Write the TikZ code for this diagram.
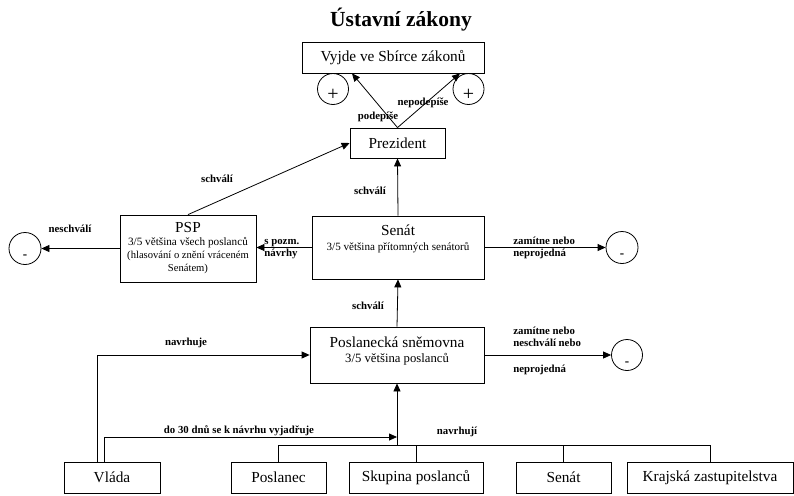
\documentclass[tikz,border=0pt]{standalone}
\usepackage{fontspec}
\setmainfont{Liberation Serif}
\usetikzlibrary{arrows.meta}

\begin{document}
\begin{tikzpicture}[x=1pt,y=-1pt,line width=0.8pt]
  \tikzset{box/.style={draw,inner sep=0pt,minimum height=31pt,align=center,font=\fontsize{15.3}{15}\selectfont},
    kruh/.style={draw,circle,inner sep=0pt,minimum size=31pt,text height=20pt,text depth=0pt},
    lbl/.style={font=\bfseries\fontsize{10.8}{12.5}\selectfont,align=left,inner sep=0pt},
    sip/.style={-{Triangle[length=8pt,width=7pt]}}}
  \useasboundingbox (0,0) rectangle (794,495);
  \node(titul) at (401,20){\bfseries\fontsize{21.5}{24}\selectfont Ústavní zákony};
  \node(vyjde)[box,minimum width=182pt] at (393,57.5){Vyjde ve Sbírce zákonů};
  \node(prez)[box,minimum width=95pt,minimum height=30pt] at (397.5,143){Prezident};
  \node(plusA)[kruh,font=\fontsize{20}{20}\selectfont,text height=23pt] at (333,89){+};
  \node(plusB)[kruh,font=\fontsize{20}{20}\selectfont,text height=23pt] at (468.5,89){+};
  \node(psp)[box,minimum width=136pt,minimum height=67pt,font=\fontsize{10.6}{13}\selectfont] at (188,248.5){{\fontsize{15.3}{15}\selectfont PSP}\\{\fontsize{11.2}{13}\selectfont 3/5 většina všech poslanců}\\(hlasování o znění vráceném\\Senátem)};
  \node(senat)[box,minimum width=172pt,minimum height=63pt] at (398,247.5){Senát\\{\fontsize{11.1}{15}\selectfont 3/5 většina přítomných senátorů}\\[4pt]\mbox{}};
  \node(posl)[box,minimum width=174pt,minimum height=56pt] at (397,355){Poslanecká sněmovna\\{\fontsize{12.7}{15}\selectfont 3/5 většina poslanců}\\[-4pt]\mbox{}};
  \node(minA)[kruh,minimum size=32pt,font=\bfseries\fontsize{13}{13}\selectfont] at (25,248.5){-};
  \node(minB)[kruh,minimum size=32pt,font=\bfseries\fontsize{13}{13}\selectfont] at (622,247.5){-};
  \node(minC)[kruh,font=\bfseries\fontsize{13}{13}\selectfont] at (627,355){-};
  \node(vlada)[box,minimum width=96pt] at (112,477.5){Vláda};
  \foreach \txt/\x/\w/\jm in {Poslanec/278.5/95/poslanec,Skupina poslanců/416/134/skupina,Senát/563.5/95/senat2,Krajská zastupitelstva/710/166/kraj}
    \node(\jm)[box,minimum width=\w pt] at (\x,477.5){\txt};
  \coordinate (uzel) at (397,445);
  \coordinate (k30) at (397,437);
  % sipky
  \draw[sip] (prez.north) -- ([xshift=-41pt]vyjde.south);
  \draw[sip] (prez.north) -- ([xshift=67pt]vyjde.south);
  \draw[sip] (psp.north) -- (prez.west);
  \draw[sip] (psp.west) -- (minA);
  \draw[sip] (senat.north) -- (prez.south);
  \draw[sip] (senat.west) -- (senat.west -| psp.east);
  \draw[sip] (senat.east) -- (minB);
  \draw[sip] (posl.north) -- (senat.south);
  \draw[sip] (posl.east) -- (minC);
  \draw[sip] ([xshift=-15pt]vlada.north) |- (posl.west);
  \draw[sip] ([xshift=-8pt]vlada.north) |- (k30);
  \draw[sip] (uzel) -- (posl.south);
  \draw (poslanec.north) |- (kraj.north |- uzel) -- (kraj.north);
  \foreach \jm in {skupina,senat2}\draw (\jm.north) -- (\jm.north |- uzel);
  % popisky
  \node(l1)[lbl] at (378,117){podepíše};
  \node(l2)[lbl] at (423,103){nepodepíše};
  \node(l3)[lbl] at (217,179){schválí};
  \node(l4)[lbl] at (370,191){schválí};
  \node(l5)[lbl] at (368,306){schválí};
  \node(l6)[lbl] at (70,229){neschválí};
  \node(l7)[lbl,anchor=west] at (264,249){s pozm.\\návrhy};
  \node(l8)[lbl,anchor=west] at (513,248){zamítne nebo\\neprojedná};
  \node(l9)[lbl,anchor=west] at (513,350.5){zamítne nebo\\neschválí nebo\\[13pt]neprojedná};
  \node(l10)[lbl] at (186,343){navrhuje};
  \node(l11)[lbl] at (239,431){do 30 dnů se k návrhu vyjadřuje};
  \node(l12)[lbl] at (457,432){navrhují};
\end{tikzpicture}
\end{document}
